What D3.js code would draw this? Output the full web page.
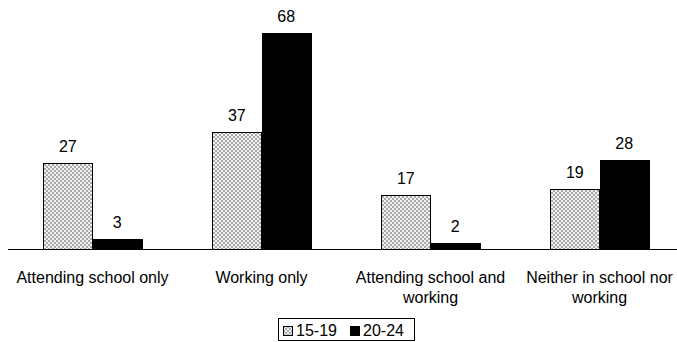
<!DOCTYPE html>
<html>
<head>
<meta charset="utf-8">
<script src="https://cdn.jsdelivr.net/npm/d3@7"></script>
<style>
  html, body { margin: 0; padding: 0; background: #fff; }
  svg { display: block; font-family: "Liberation Sans", Arial, sans-serif; }
</style>
</head>
<body>
<svg id="chart" width="677" height="342"></svg>
<script>
// Activity status of young people, by age group (%)
const categories = [
  ["Attending school only"],
  ["Working only"],
  ["Attending school and", "working"],
  ["Neither in school nor", "working"]
];
const seriesNames = ["15-19", "20-24"];
const values1519 = [27, 37, 17, 19];
const values2024 = [3, 68, 2, 28];

const svg = d3.select("#chart");

// fine checkered fill for the 15-19 series
const defs = svg.append("defs");
const pat = defs.append("pattern")
  .attr("id", "dots").attr("patternUnits", "userSpaceOnUse")
  .attr("width", 4).attr("height", 4);
pat.append("rect").attr("width", 4).attr("height", 4).attr("fill", "#f0f0f0");
pat.append("rect").attr("x", 0).attr("y", 0).attr("width", 2).attr("height", 2).attr("fill", "#aaaaaa");
pat.append("rect").attr("x", 2).attr("y", 2).attr("width", 2).attr("height", 2).attr("fill", "#aaaaaa");

const fills = ["url(#dots)", "#000"];
const FS = 16;

const x0 = d3.scaleBand().domain(d3.range(categories.length)).range([8, 684]).paddingInner(0).paddingOuter(0);
const x1 = d3.scaleBand().domain(seriesNames).range([0, x0.bandwidth()]).paddingInner(0).paddingOuter(0.71);
const y = d3.scaleLinear().domain([0, 70]).range([249, 27]);

const data = categories.map((c, i) => ({
  i, vals: [
    { s: seriesNames[0], v: values1519[i] },
    { s: seriesNames[1], v: values2024[i] }
  ]
}));

const groups = svg.append("g").selectAll("g.grp").data(data).join("g")
  .attr("class", "grp")
  .attr("transform", d => `translate(${Math.round(x0(d.i))},0)`);

groups.selectAll("rect").data(d => d.vals).join("rect")
  .attr("x", d => Math.round(x1(d.s)))
  .attr("y", d => Math.round(y(d.v)))
  .attr("width", Math.round(x1.bandwidth()))
  .attr("height", d => Math.round(y(0)) - Math.round(y(d.v)))
  .attr("fill", (d, j) => fills[j])
  .attr("stroke", "#000").attr("stroke-width", 1)
  .attr("shape-rendering", "crispEdges");

groups.selectAll("text.val").data(d => d.vals).join("text")
  .attr("class", "val")
  .attr("x", d => x1(d.s) + x1.bandwidth() / 2)
  .attr("y", d => y(d.v) - 11)
  .attr("text-anchor", "middle")
  .attr("font-size", FS)
  .text(d => d.v);

// category axis
const axis = d3.axisBottom(x0).tickSize(0).tickFormat("");
const ax = svg.append("g").attr("transform", `translate(0,${Math.round(y(0)) + 0.5})`).call(axis);
ax.select(".domain").attr("stroke", "#000").attr("d", "M8,0H684");

svg.append("g").selectAll("text").data(categories).join("text")
  .attr("text-anchor", "middle")
  .attr("font-size", FS)
  .attr("x", (d, i) => x0(i) + x0.bandwidth() / 2)
  .attr("y", 283)
  .selectAll("tspan").data(d => d).join("tspan")
  .attr("x", function () { return d3.select(this.parentNode).attr("x"); })
  .attr("dy", (d, k) => k === 0 ? 0 : 20)
  .text(d => d);

// legend
const lg = svg.append("g").attr("transform", "translate(278,318)");
lg.append("rect").attr("x", 0.5).attr("y", 0.5).attr("width", 136).attr("height", 22)
  .attr("fill", "#fff").attr("stroke", "#000");
const items = lg.selectAll("g.item").data(seriesNames).join("g")
  .attr("transform", (d, i) => `translate(${i === 0 ? 5 : 72},8)`);
items.append("rect").attr("width", 9).attr("height", 9)
  .attr("fill", (d, i) => fills[i]).attr("stroke", "#000")
  .attr("shape-rendering", "crispEdges");
items.append("text").attr("x", 13).attr("y", 9.5).attr("font-size", FS).text(d => d);
</script>
</body>
</html>
